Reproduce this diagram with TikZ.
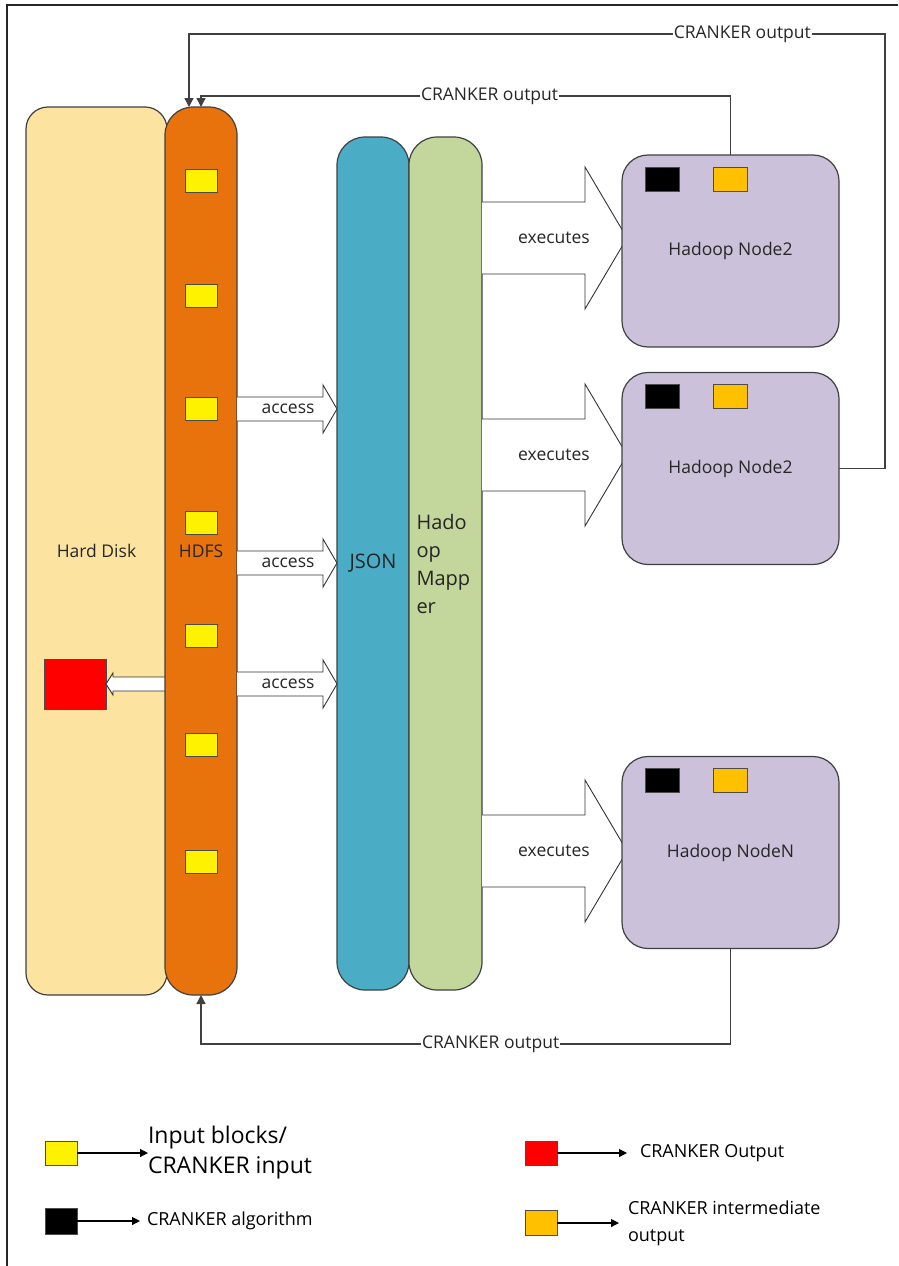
\documentclass[tikz,border=0pt]{standalone}
\usepackage{fontspec}
\setmainfont{Open Sans}
\usetikzlibrary{arrows.meta}

\definecolor{diskfill}{HTML}{FDE3A0}
\definecolor{hdfsfill}{HTML}{E8720C}
\definecolor{jsonfill}{HTML}{4BACC6}
\definecolor{mapperfill}{HTML}{C3D69B}
\definecolor{hnodefill}{HTML}{CCC1DA}
\definecolor{interfill}{HTML}{FFC000}
\definecolor{edgegray}{HTML}{404040}

\begin{document}
\begin{tikzpicture}[x=1pt,y=-1pt,>={Triangle[length=9pt,width=9pt]},
  every node/.style={inner sep=0pt,outer sep=0pt,text=black!85},
  box/.style={draw=black!75,line width=1.2pt},
  column/.style={box,minimum width=72pt,minimum height=888pt,rounded corners=28pt},
  hnode/.style={box,fill=hnodefill,minimum width=217pt,minimum height=192pt,rounded corners=26pt},
  block/.style={draw=black!70,line width=1pt,minimum width=32pt,minimum height=24pt},
  lbl/.style={font=\fontsize{17.5}{20}\selectfont},
  big/.style={font=\fontsize{20}{28}\selectfont},
  legbig/.style={font=\fontsize{23}{30}\selectfont,text=black},
  legtxt/.style={font=\fontsize{18}{27}\selectfont,text=black},
  outline/.style={draw=edgegray,line width=1.3pt},
  fat/.style={draw=black!80,line width=0.9pt,fill=white},
  legarrow/.style={line width=1.1pt,-{Triangle[length=8pt,width=8pt]}}
]
\useasboundingbox (0,0) rectangle (898,1266);
\draw[line width=1.3pt,black!85] (7,1266) -- (7,5) -- (898,5);

% storage side
\node[column,lbl,fill=diskfill,minimum width=141pt,rounded corners=22pt] (disk) at (96.5,551) {Hard Disk};
\node[block,fill=red,minimum width=62pt,minimum height=50pt] (result) at (75,684) {};
\draw[fat] (165,677) -- (113,677) -- (113,673) -- (106,684) -- (113,695) -- (113,691) -- (165,691);
\node[column,lbl,fill=hdfsfill] (hdfs) at (201,551) {HDFS};
\foreach \y in {181,296,409,523,636,745,862}
  \node[block,fill=yellow,minimum height=23pt] (in\y) at (201,\y) {};

% access arrows
\foreach \c/\i in {409/1,563/2,684/3} {
  \draw[fat] (237,\c-12) -- (323,\c-12) -- (323,\c-24) -- (337,\c) -- (323,\c+24) -- (323,\c+12) -- (237,\c+12);
  \node[lbl] (acc\i) at (288,\c) {access};
}

\node[column,big,fill=jsonfill,minimum height=853pt] (json) at (373,563.5) {JSON};
\node[column,big,fill=mapperfill,minimum width=73pt,minimum height=853pt,align=left,text width=58pt] (mapper) at (445.5,563.5) {Hado\\op\\Mapp\\er};

% executes arrows
\foreach \c/\i in {238/1,455/2,851/3} {
  \draw[fat] (482,\c-36) -- (585,\c-36) -- (585,\c-71) -- (627,\c) -- (585,\c+71) -- (585,\c+36) -- (482,\c+36);
  \node[lbl] (exec\i) at (554,\c) {executes};
}

% hadoop nodes
\node[hnode,lbl] (node1) at (730.5,251) {Hadoop Node2};
\node[hnode,lbl] (node2) at (730.5,468.5) {Hadoop Node2};
\node[hnode,lbl] (nodeN) at (730.5,852.5) {Hadoop NodeN};
\foreach \n in {node1,node2,nodeN} {
  \node[block,fill=black,minimum width=34pt] (alg-\n) at ([shift={(-68,24)}]\n.north) {};
  \node[block,fill=interfill,minimum width=34pt] (mid-\n) at ([shift={(0,24)}]\n.north) {};
}

% outputs back to hdfs
\coordinate (topY) at (0,34);
\coordinate (midY) at (0,96);
\coordinate (botY) at (0,1044);
\coordinate (rightX) at (885,0);
\coordinate (hdfsIn) at ([xshift=-12pt]hdfs.north);
\draw[outline,->] (node1.north) -- (node1.north |- midY)
  -- node[lbl,fill=white,inner xsep=1pt,pos=0.455] (outMid) {CRANKER output} (hdfs.north |- midY) -- (hdfs.north);
\draw[outline,->] (node2.east) -- (node2.east -| rightX) -- (rightX |- topY)
  -- node[lbl,fill=white,inner xsep=1pt,pos=0.205] (outTop) {CRANKER output} (hdfsIn |- topY) -- (hdfsIn);
\draw[outline,->] (nodeN.south) -- (nodeN.south |- botY)
  -- node[lbl,fill=white,inner xsep=1pt,pos=0.453] (outBot) {CRANKER output} (hdfs.south |- botY) -- (hdfs.south);

% legend
\node[block,fill=yellow] (keyIn) at (61,1153) {};
\node[legbig,anchor=west,align=left] (keyInTxt) at (148,1153) {Input blocks/\\CRANKER input};
\draw[legarrow] (keyIn.east) -- (keyInTxt.west);
\node[block,fill=black,minimum height=26pt] (keyAlg) at (61,1221) {};
\node[legtxt,anchor=west] (keyAlgTxt) at (147,1221) {CRANKER algorithm};
\draw[legarrow] (keyAlg.east) -- ([xshift=-7pt]keyAlgTxt.west);
\node[block,fill=red] (keyOut) at (541,1153) {};
\node[legtxt,anchor=west] (keyOutTxt) at (640,1153) {CRANKER Output};
\draw[legarrow] (keyOut.east) -- ([xshift=-13pt]keyOutTxt.west);
\node[block,fill=interfill,minimum height=25pt] (keyMid) at (541,1223) {};
\node[legtxt,anchor=west,align=left] (keyMidTxt) at (628,1223) {CRANKER intermediate\\output};
\draw[legarrow] (keyMid.east) -- ([xshift=-9pt]keyMidTxt.west);
\end{tikzpicture}
\end{document}
